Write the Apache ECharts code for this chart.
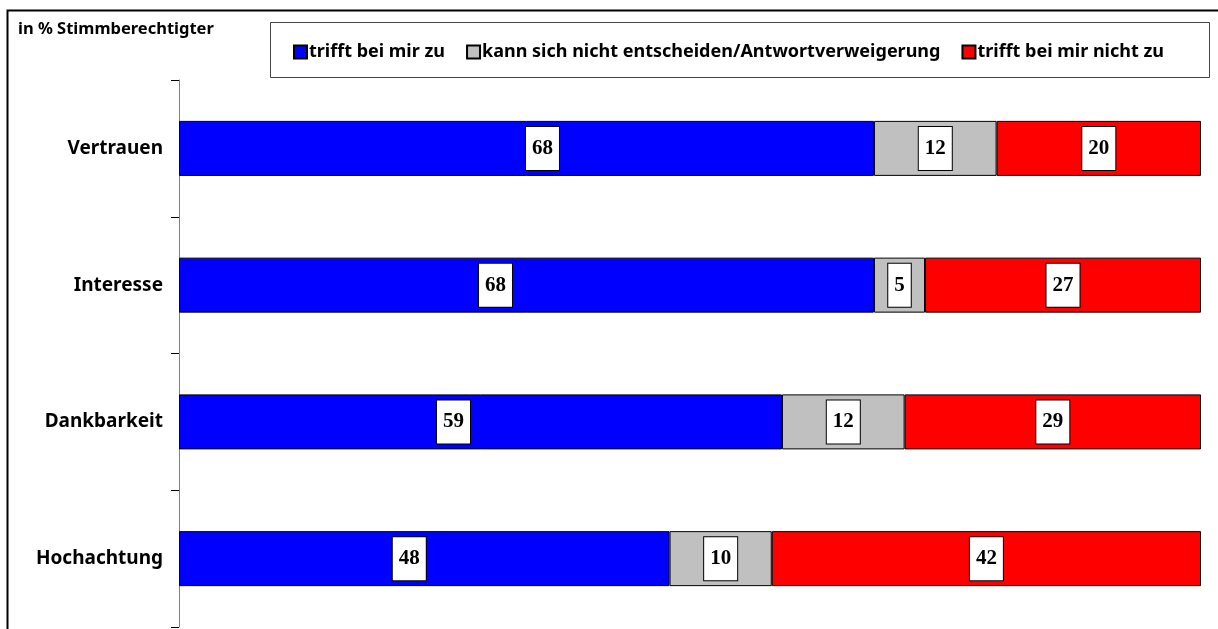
<!DOCTYPE html>
<html>
<head>
<meta charset="utf-8">
<script src="https://cdn.jsdelivr.net/npm/echarts@6/dist/echarts.min.js"></script>
<style>
  html, body { margin: 0; padding: 0; background: #fff; }
  #chart { width: 1218px; height: 629px; }
</style>
</head>
<body>
<div id="chart"></div>
<script>
// Einstellungen zu den Stimmberechtigten
const categories = ["Vertrauen", "Interesse", "Dankbarkeit", "Hochachtung"];
const seriesNames = [
  "trifft bei mir zu",
  "kann sich nicht entscheiden/Antwortverweigerung",
  "trifft bei mir nicht zu",
];
const zuValues = [68, 68, 59, 48];
const unentschiedenValues = [12, 5, 12, 10];
const nichtZuValues = [20, 27, 29, 42];

const colors = ["#0000ff", "#c0c0c0", "#ff0000"];
const font = "Noto Sans";

// the blue labels are not centred in the original
const blueLabelShift = [16, -31, -27, -15];

const chart = echarts.init(document.getElementById("chart"));

const label = {
  show: true,
  position: "inside",
  color: "#000",
  fontFamily: "Liberation Serif",
  fontWeight: "bold",
  fontSize: 21,
  backgroundColor: "#fff",
  borderColor: "#000",
  borderWidth: 1,
  padding: [12, 6, 10, 6],
};

function makeSeries(name, data, color, shifts) {
  return {
    name: name,
    type: "bar",
    stack: "total",
    barWidth: 55,
    data: data.map((v, i) =>
      shifts ? { value: v, label: { offset: [shifts[i], 0] } } : v
    ),
    itemStyle: { color: color, borderColor: "#000", borderWidth: 1 },
    label: label,
  };
}

chart.setOption({
  animation: false,
  textStyle: { fontFamily: font },
  graphic: [
    {
      type: "rect",
      shape: { x: 7.5, y: 10.5, width: 1230, height: 640 },
      style: { fill: "none", stroke: "#000", lineWidth: 2 },
    },
    {
      type: "rect",
      shape: { x: 270.5, y: 22.5, width: 939, height: 55 },
      style: { fill: "none", stroke: "#444", lineWidth: 1 },
    },
    {
      type: "text",
      left: 18,
      top: 21,
      style: {
        text: "in % Stimmberechtigter",
        font: "bold 16.5px 'Noto Sans'",
        fill: "#000",
      },
    },
  ],
  legend: {
    left: 288,
    top: 38,
    itemWidth: 13,
    itemHeight: 13,
    itemGap: 21,
    icon: "rect",
    textStyle: { fontFamily: font, fontWeight: "bold", fontSize: 18, color: "#000", padding: [0, 0, 0, -3] },
    data: seriesNames,
  },
  grid: { left: 179, right: 17, top: 80, bottom: 2 },
  xAxis: { type: "value", min: 0, max: 100, show: false },
  yAxis: {
    type: "category",
    inverse: true,
    data: categories,
    axisLine: { lineStyle: { color: "#808080", width: 1 } },
    axisTick: { show: true, length: 8, lineStyle: { color: "#000" } },
    axisLabel: {
      margin: 16,
      color: "#000",
      fontFamily: font,
      fontWeight: "bold",
      fontSize: 19,
    },
  },
  series: [
    makeSeries(seriesNames[0], zuValues, colors[0], blueLabelShift),
    makeSeries(seriesNames[1], unentschiedenValues, colors[1]),
    makeSeries(seriesNames[2], nichtZuValues, colors[2]),
  ],
});
</script>
</body>
</html>
